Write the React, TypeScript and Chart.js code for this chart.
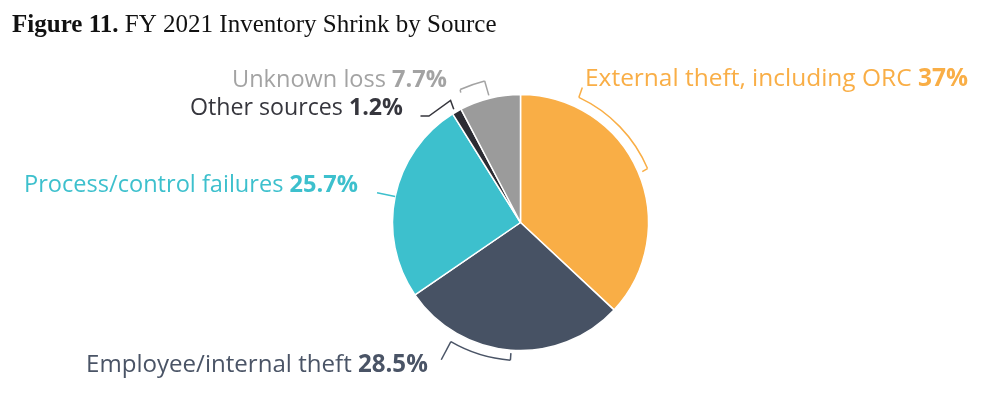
import React, { useEffect, useRef } from "react";
import { Chart, registerables } from "chart.js";

Chart.register(...registerables);

// ---- data ----
const categories = [
  "External theft, including ORC",
  "Employee/internal theft",
  "Process/control failures",
  "Other sources",
  "Unknown loss",
];
const shares = [37, 28.5, 25.7, 1.2, 7.7];
const shareLabels = ["37%", "28.5%", "25.7%", "1.2%", "7.7%"];
const sliceColors = ["#F9AE46", "#475264", "#3DC0CD", "#2C2C33", "#9B9B9B"];
const labelColors = ["#F9AE46", "#4A5466", "#3DC0CD", "#36363D", "#A3A3A3"];
const titleBold = "Figure 11.";
const titleText = " FY 2021 Inventory Shrink by Source";

// ---- layout (label anchors: left x, baseline y, target width) ----
const labelLayout = [
  { x: 585, y: 86, w: 383 },
  { x: 86, y: 371.5, w: 342 },
  { x: 24, y: 192, w: 334 },
  { x: 190, y: 114.5, w: 213 },
  { x: 232, y: 87, w: 215 },
];
const LABEL_FONT = '"Open Sans", "Noto Sans", sans-serif';
const TITLE_FONT = '"Liberation Serif", "DejaVu Serif", serif';

// leader/bracket shapes in polar coords (deg clockwise from 12 o'clock, radius px)
type Seg =
  | { kind: "line"; pts: [number, number][] }
  | { kind: "arc"; r: number; a0: number; a1: number };
const leaders: Seg[][] = [
  [
    { kind: "line", pts: [[24.6, 148.5], [25, 138]] },
    { kind: "arc", r: 138, a0: 25, a1: 67 },
    { kind: "line", pts: [[67, 138], [67.3, 132]] },
  ],
  [
    { kind: "line", pts: [[184.2, 131], [184.2, 138]] },
    { kind: "arc", r: 138, a0: 184.2, a1: 210.3 },
    { kind: "line", pts: [[210.3, 138], [210, 158.5]] },
  ],
  [{ kind: "line", pts: [[281.7, 146.5], [281.7, 128]] }],
  [{ kind: "line", pts: [[316.8, 146.1], [319.3, 140.4], [330.2, 140.7], [329.5, 131.5]] }],
  [
    { kind: "line", pts: [[335.3, 143], [335.6, 146]] },
    { kind: "arc", r: 146, a0: 335.6, a1: 345.8 },
    { kind: "line", pts: [[345.8, 146], [346, 131]] },
  ],
];

const annotationPlugin = {
  id: "annotations",
  afterDraw(chart: any) {
    const ctx: CanvasRenderingContext2D = chart.ctx;
    const arc0 = chart.getDatasetMeta(0).data[0];
    if (!arc0) return;
    const cx = arc0.x;
    const cy = arc0.y;
    const P = (deg: number, r: number): [number, number] => [
      cx + r * Math.sin((deg * Math.PI) / 180),
      cy - r * Math.cos((deg * Math.PI) / 180),
    ];
    ctx.save();
    // leaders
    leaders.forEach((segs, i) => {
      ctx.strokeStyle = labelColors[i];
      ctx.lineWidth = 1.5;
      ctx.lineJoin = "miter";
      segs.forEach((s) => {
        ctx.beginPath();
        if (s.kind === "line") {
          s.pts.forEach(([a, r], k) => {
            const [x, y] = P(a, r);
            if (k === 0) ctx.moveTo(x, y);
            else ctx.lineTo(x, y);
          });
        } else {
          ctx.arc(cx, cy, s.r, ((s.a0 - 90) * Math.PI) / 180, ((s.a1 - 90) * Math.PI) / 180);
        }
        ctx.stroke();
      });
    });
    // labels
    ctx.textBaseline = "alphabetic";
    ctx.textAlign = "left";
    categories.forEach((cat, i) => {
      const L = labelLayout[i];
      const base = 20;
      ctx.font = `400 ${base}px ${LABEL_FONT}`;
      const w1 = ctx.measureText(cat + " ").width;
      ctx.font = `700 ${base}px ${LABEL_FONT}`;
      const w2 = ctx.measureText(shareLabels[i]).width;
      const size = (base * L.w) / (w1 + w2);
      ctx.fillStyle = labelColors[i];
      ctx.font = `400 ${size}px ${LABEL_FONT}`;
      ctx.fillText(cat + " ", L.x, L.y);
      const ww = ctx.measureText(cat + " ").width;
      ctx.font = `700 ${size}px ${LABEL_FONT}`;
      ctx.fillText(shareLabels[i], L.x + ww, L.y);
    });
    // title
    const tb = 25;
    ctx.font = `700 ${tb}px ${TITLE_FONT}`;
    const t1 = ctx.measureText(titleBold).width;
    ctx.font = `400 ${tb}px ${TITLE_FONT}`;
    const t2 = ctx.measureText(titleText).width;
    const ts = (tb * 485) / (t1 + t2);
    ctx.fillStyle = "#111111";
    ctx.font = `700 ${ts}px ${TITLE_FONT}`;
    ctx.fillText(titleBold, 12, 31.5);
    const tw = ctx.measureText(titleBold).width;
    ctx.font = `400 ${ts}px ${TITLE_FONT}`;
    ctx.fillText(titleText, 12 + tw, 31.5);
    ctx.restore();
  },
};

export default function App() {
  const ref = useRef<HTMLCanvasElement | null>(null);
  useEffect(() => {
    if (!ref.current) return;
    const chart = new Chart(ref.current, {
      type: "pie",
      data: {
        labels: categories,
        datasets: [
          {
            data: shares,
            backgroundColor: sliceColors,
            borderColor: "#ffffff",
            borderWidth: 1.5,
          },
        ],
      },
      options: {
        responsive: false,
        animation: false,
        devicePixelRatio: 1,
        radius: 128,
        layout: { padding: { left: 41, right: 0, top: 46, bottom: 0 } },
        plugins: {
          legend: { display: false },
          tooltip: { enabled: false },
          title: { display: false },
        },
      } as any,
      plugins: [annotationPlugin],
    });
    return () => chart.destroy();
  }, []);
  return (
    <div style={{ position: "absolute", left: 0, top: 0, width: 1000, height: 399, background: "#fff" }}>
      <canvas ref={ref} width={1000} height={399} style={{ display: "block" }} />
    </div>
  );
}
